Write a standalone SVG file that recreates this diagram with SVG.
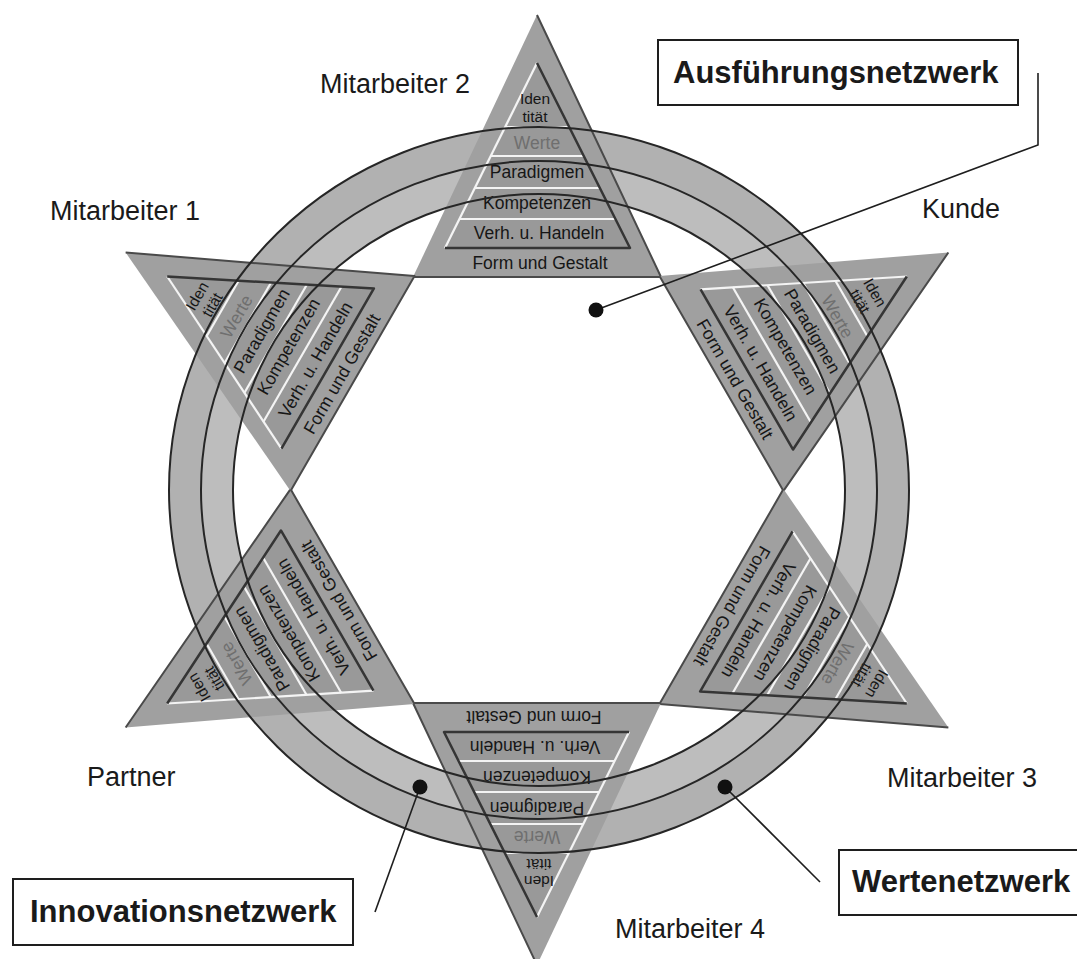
<svg xmlns="http://www.w3.org/2000/svg" width="1077" height="959" viewBox="0 0 1077 959">
<style>
.bg{fill:#ffffff}
.tri{fill:#a0a0a0;stroke:none}
.dk{fill:none;stroke:#4a4a4a;stroke-width:2;stroke-linejoin:round}
.in{fill:#999999;stroke:none}
.dk2{fill:none;stroke:#353535;stroke-width:2.5;stroke-linejoin:round}
.wt{stroke:#f4f4f4;stroke-width:2.2}
.tt{font-family:"Liberation Sans",Arial,sans-serif;font-size:17.5px;fill:#161616;text-anchor:middle}
.ts{font-size:15.5px}
.tw{fill:#6f6f6f}
.ring{fill:none;stroke:#262626;stroke-width:2}
.lbl{font-family:"Liberation Sans",Arial,sans-serif;font-size:27px;fill:#1a1a1a}
.box{fill:#ffffff;stroke:#1e1e1e;stroke-width:2}
.bt{font-family:"Liberation Sans",Arial,sans-serif;font-size:31px;font-weight:bold;fill:#1a1a1a}
.ld{fill:none;stroke:#1e1e1e;stroke-width:1.6}
</style>
<defs>
<g id="pyr">
<polygon class="tri" points="537,15 413,277 661,277"/>
<polyline class="dk" points="537,15 661,277 413,277"/>
<polygon class="in" points="537,63 445,248 630,248"/>
<line class="wt" x1="505" y1="127" x2="569" y2="127"/>
<line class="wt" x1="491" y1="156" x2="584" y2="156"/>
<line class="wt" x1="475" y1="188" x2="600" y2="188"/>
<line class="wt" x1="459" y1="219" x2="615" y2="219"/>
<line class="wt" x1="537" y1="63" x2="445" y2="248"/>
<polyline class="dk2" points="537,63 630,248 445,248"/>
</g>
</defs>
<rect class="bg" x="0" y="0" width="1077" height="959"/>
<g id="ring-fill">
<ellipse cx="539" cy="490" rx="370" ry="363" fill="#b1b1b1"/>
<ellipse cx="539" cy="490" rx="338" ry="329" fill="#bdbdbd"/>
<ellipse cx="539" cy="490" rx="306" ry="296" fill="#ffffff"/>
</g>
<g id="mitarbeiter2">
<use href="#pyr"/>
<text class="tt ts" x="535" y="104">Iden</text><text class="tt ts" x="535" y="121.5">tität</text>
<text class="tt tw" x="537" y="149">Werte</text>
<text class="tt" x="537" y="178">Paradigmen</text>
<text class="tt" x="537" y="209">Kompetenzen</text>
<text class="tt" x="539" y="239">Verh. u. Handeln</text>
<text class="tt" x="540" y="269">Form und Gestalt</text>
</g>
<g id="kunde" transform="rotate(60 537 490)">
<use href="#pyr"/>
<text class="tt ts" x="535" y="104">Iden</text><text class="tt ts" x="535" y="121.5">tität</text>
<text class="tt tw" x="537" y="149">Werte</text>
<text class="tt" x="537" y="178">Paradigmen</text>
<text class="tt" x="537" y="209">Kompetenzen</text>
<text class="tt" x="539" y="239">Verh. u. Handeln</text>
<text class="tt" x="540" y="269">Form und Gestalt</text>
</g>
<g id="mitarbeiter3" transform="rotate(120 537 490)">
<use href="#pyr"/>
<text class="tt ts" x="535" y="104">Iden</text><text class="tt ts" x="535" y="121.5">tität</text>
<text class="tt tw" x="537" y="149">Werte</text>
<text class="tt" x="537" y="178">Paradigmen</text>
<text class="tt" x="537" y="209">Kompetenzen</text>
<text class="tt" x="539" y="239">Verh. u. Handeln</text>
<text class="tt" x="540" y="269">Form und Gestalt</text>
</g>
<g id="mitarbeiter4" transform="rotate(180 537 490)">
<use href="#pyr"/>
<text class="tt ts" x="535" y="104">Iden</text><text class="tt ts" x="535" y="121.5">tität</text>
<text class="tt tw" x="537" y="149">Werte</text>
<text class="tt" x="537" y="178">Paradigmen</text>
<text class="tt" x="537" y="209">Kompetenzen</text>
<text class="tt" x="539" y="239">Verh. u. Handeln</text>
<text class="tt" x="540" y="269">Form und Gestalt</text>
</g>
<g id="partner" transform="rotate(240 537 490)">
<use href="#pyr"/>
<text class="tt ts" x="535" y="104">Iden</text><text class="tt ts" x="535" y="121.5">tität</text>
<text class="tt tw" x="537" y="149">Werte</text>
<text class="tt" x="537" y="178">Paradigmen</text>
<text class="tt" x="537" y="209">Kompetenzen</text>
<text class="tt" x="539" y="239">Verh. u. Handeln</text>
<text class="tt" x="540" y="269">Form und Gestalt</text>
</g>
<g id="mitarbeiter1" transform="rotate(300 537 490)">
<use href="#pyr"/>
<text class="tt ts" x="535" y="104">Iden</text><text class="tt ts" x="535" y="121.5">tität</text>
<text class="tt tw" x="537" y="149">Werte</text>
<text class="tt" x="537" y="178">Paradigmen</text>
<text class="tt" x="537" y="209">Kompetenzen</text>
<text class="tt" x="539" y="239">Verh. u. Handeln</text>
<text class="tt" x="540" y="269">Form und Gestalt</text>
</g>
<g id="ring-lines">
<ellipse class="ring" cx="539" cy="490" rx="370" ry="363"/>
<ellipse class="ring" cx="539" cy="490" rx="338" ry="329"/>
<ellipse class="ring" cx="539" cy="490" rx="306" ry="296"/>
</g>
<g id="labels">
<text class="lbl" x="320" y="93">Mitarbeiter 2</text>
<text class="lbl" x="50" y="220">Mitarbeiter 1</text>
<text class="lbl" x="922" y="218">Kunde</text>
<text class="lbl" x="87" y="786">Partner</text>
<text class="lbl" x="887" y="787">Mitarbeiter 3</text>
<text class="lbl" x="615" y="938">Mitarbeiter 4</text>
</g>
<g id="connectors">
<polyline class="ld" points="1038,73 1038,145 596,310"/>
<line class="ld" x1="420" y1="787" x2="375" y2="912"/>
<line class="ld" x1="725" y1="787" x2="820" y2="882"/>
<circle cx="596" cy="310" r="7.5" fill="#111"/>
<circle cx="420" cy="787" r="7.5" fill="#111"/>
<circle cx="725" cy="787" r="7.5" fill="#111"/>
</g>
<g id="ausfuehrungsnetzwerk">
<rect class="box" x="658" y="40" width="360" height="65"/>
<text class="bt" x="673" y="83">Ausführungsnetzwerk</text>
</g>
<g id="innovationsnetzwerk">
<rect class="box" x="13" y="879" width="340" height="66"/>
<text class="bt" x="30" y="922">Innovationsnetzwerk</text>
</g>
<g id="wertenetzwerk">
<rect class="box" x="839" y="850" width="250" height="65"/>
<text class="bt" x="852" y="892">Wertenetzwerk</text>
</g>
</svg>
